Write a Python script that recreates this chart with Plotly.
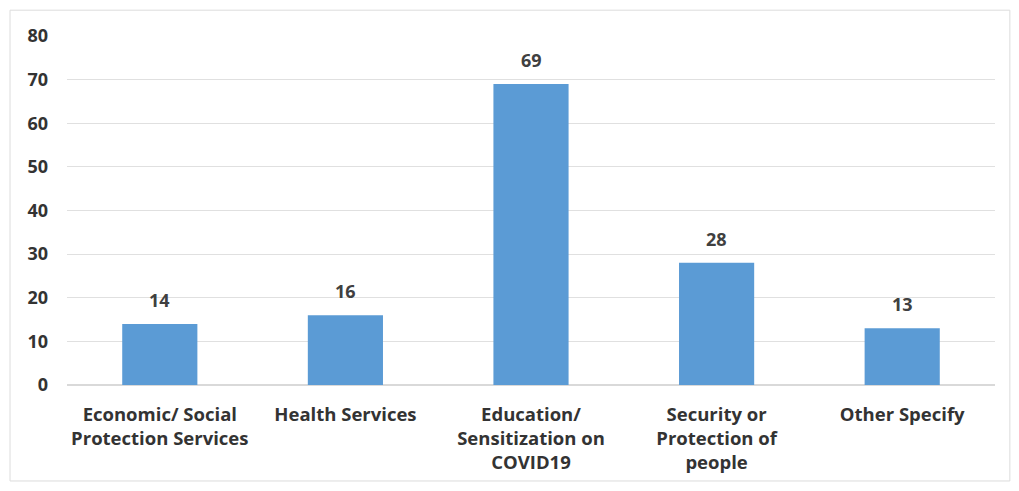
import plotly.graph_objects as go

categories = ["Economic/ Social<br>Protection Services", "Health Services",
              "Education/<br>Sensitization on<br>COVID19", "Security or<br>Protection of<br>people",
              "Other Specify"]
values = [14, 16, 69, 28, 13]
y_ticks = [0, 10, 20, 30, 40, 50, 60, 70, 80]

fig = go.Figure(go.Bar(
    x=categories, y=values, marker=dict(color="#5B9BD5", line=dict(width=0)),
))
for c, v in zip(categories, values):
    fig.add_annotation(x=c, y=v, text=f"<b>{v}</b>", showarrow=False, yanchor="bottom", yshift=10,
                       font=dict(family="Open Sans", size=18, color="#404040"))
fig.update_layout(
    width=1019, height=491,
    margin=dict(l=59, r=32, t=28, b=114),
    paper_bgcolor="white", plot_bgcolor="white",
    bargap=0.595, showlegend=False,
    font=dict(family="Open Sans", size=18, color="#333333"),
    shapes=[dict(type="rect", xref="paper", yref="paper", x0=-0.0614, x1=1.016, y0=-0.275, y1=1.074,
                 line=dict(color="#dcdcdc", width=1))],
)
fig.update_yaxes(range=[0, 80], tickvals=y_ticks, showgrid=True, gridcolor="#e0e0e0", gridwidth=1,
                 zeroline=True, zerolinecolor="#d9d9d9", ticks="", ticklabelstandoff=18,
                 tickfont=dict(family="Open Sans", size=18, color="#333333", weight="bold"))
fig.update_xaxes(showline=False, ticks="", ticklabelstandoff=16,
                 tickfont=dict(family="Open Sans", size=18.5, color="#333333", weight="bold"))
fig.write_html("out.html")
